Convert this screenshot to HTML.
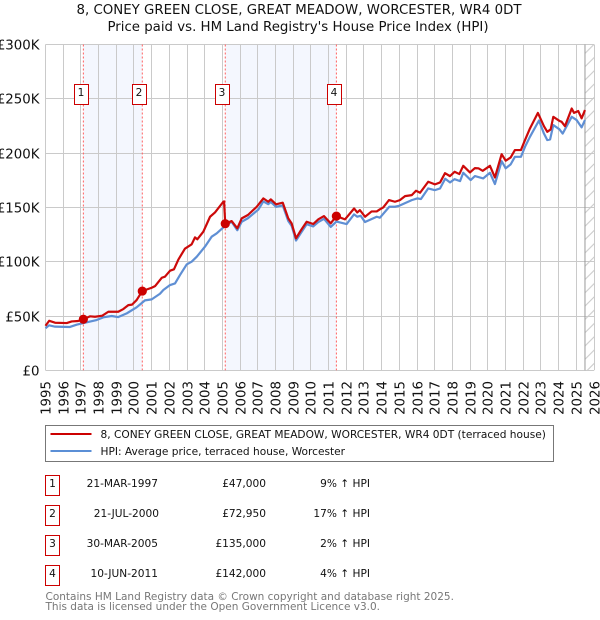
<!DOCTYPE html>
<html lang="en">
<head>
<meta charset="utf-8">
<title>8, CONEY GREEN CLOSE house price chart</title>
<style>
html,body{margin:0;padding:0;background:#fff;width:600px;height:620px;overflow:hidden}
svg{display:block;font-family:"DejaVu Sans","Liberation Sans",sans-serif}
</style>
</head>
<body>
<svg id="chart" xmlns="http://www.w3.org/2000/svg" width="600" height="620" viewBox="0 0 600 620">
<defs>
<pattern id="hatch" patternUnits="userSpaceOnUse" width="13.3" height="13.3">
<path d="M-1 14.3L14.3 -1M-1 1L1 -1M12.3 14.3L14.3 12.3" stroke="#c8c8c8" stroke-width="1" fill="none"/>
</pattern>
</defs>
<rect width="600" height="620" fill="#fff"/>
<text x="299" y="14" text-anchor="middle" font-size="13.33" fill="#111">8, CONEY GREEN CLOSE, GREAT MEADOW, WORCESTER, WR4 0DT</text>
<text x="298" y="31" text-anchor="middle" font-size="13.33" fill="#111">Price paid vs. HM Land Registry's House Price Index (HPI)</text>
<g id="plot"></g>
<g>
<rect x="45.5" y="425.5" width="508" height="36" fill="#fff" stroke="#777" stroke-width="1"/>
<line x1="50.5" x2="91.5" y1="434" y2="434" stroke="#cc0000" stroke-width="2"/>
<text x="100.5" y="438" font-size="10.6" fill="#111">8, CONEY GREEN CLOSE, GREAT MEADOW, WORCESTER, WR4 0DT (terraced house)</text>
<line x1="50.5" x2="91.5" y1="451" y2="451" stroke="#5b8fd6" stroke-width="2"/>
<text x="100.5" y="455" font-size="10.6" fill="#111">HPI: Average price, terraced house, Worcester</text>
</g>
<g font-size="10.6" fill="#111">
<g>
<rect x="45.5" y="475.5" width="14" height="20" fill="#fff" stroke="#cc0000"/>
<text x="52.5" y="487" text-anchor="middle">1</text>
<text x="158" y="487" text-anchor="end">21-MAR-1997</text>
<text x="266" y="487" text-anchor="end">£47,000</text>
<text x="370" y="487" text-anchor="end">9% ↑ HPI</text>
</g>
<g>
<rect x="45.5" y="505.5" width="14" height="20" fill="#fff" stroke="#cc0000"/>
<text x="52.5" y="517" text-anchor="middle">2</text>
<text x="159" y="517" text-anchor="end">21-JUL-2000</text>
<text x="266" y="517" text-anchor="end">£72,950</text>
<text x="370" y="517" text-anchor="end">17% ↑ HPI</text>
</g>
<g>
<rect x="45.5" y="535.5" width="14" height="20" fill="#fff" stroke="#cc0000"/>
<text x="52.5" y="547" text-anchor="middle">3</text>
<text x="158" y="547" text-anchor="end">30-MAR-2005</text>
<text x="266" y="547" text-anchor="end">£135,000</text>
<text x="370" y="547" text-anchor="end">2% ↑ HPI</text>
</g>
<g>
<rect x="45.5" y="565.5" width="14" height="20" fill="#fff" stroke="#cc0000"/>
<text x="52.5" y="577" text-anchor="middle">4</text>
<text x="158" y="577" text-anchor="end">10-JUN-2011</text>
<text x="266" y="577" text-anchor="end">£142,000</text>
<text x="370" y="577" text-anchor="end">4% ↑ HPI</text>
</g>
</g>
<text x="45.5" y="600" font-size="10.5" fill="#777">Contains HM Land Registry data © Crown copyright and database right 2025.</text>
<text x="45.5" y="610" font-size="10.5" fill="#777">This data is licensed under the Open Government Licence v3.0.</text>
</svg>
<script>
const yearTicks = [1995,1996,1997,1998,1999,2000,2001,2002,2003,2004,2005,2006,2007,2008,2009,2010,2011,2012,2013,2014,2015,2016,2017,2018,2019,2020,2021,2022,2023,2024,2025,2026];
const priceTicks = [0,50,100,150,200,250,300];
const priceTickLabels = ['£0','£50K','£100K','£150K','£200K','£250K','£300K'];
const saleNumbers = ['1','2','3','4'];
const saleYears = [1997.14,2000.47,2005.16,2011.44];
const salePrices = [47,72.95,135,142];
const lastDataYear = 2025.49;
const propertyYears = [1995,1995.21,1995.54,1996.2,1996.48,1996.85,1997.14,1997.51,1997.8,1998.21,1998.55,1999.11,1999.4,1999.68,1999.89,2000.15,2000.47,2001,2001.19,2001.57,2001.75,2002.04,2002.26,2002.51,2002.88,2003.26,2003.45,2003.58,2003.92,2004.3,2004.58,2005.05,2005.09,2005.16,2005.52,2005.84,2006.09,2006.44,2006.94,2007.31,2007.59,2007.73,2008.03,2008.41,2008.72,2008.91,2009.16,2009.42,2009.76,2010.13,2010.42,2010.74,2011.12,2011.44,2011.93,2012.44,2012.62,2012.77,2013.06,2013.43,2013.72,2013.9,2014.09,2014.41,2014.75,2015.03,2015.32,2015.7,2015.94,2016.17,2016.63,2017.01,2017.3,2017.58,2017.86,2018.12,2018.39,2018.61,2018.99,2019.27,2019.47,2019.71,2020.12,2020.4,2020.78,2021.01,2021.29,2021.53,2021.87,2022.1,2022.38,2022.83,2023.17,2023.36,2023.55,2023.7,2024.04,2024.17,2024.36,2024.74,2024.87,2025.11,2025.3,2025.49];
const propertyValues = [41,45.6,43.8,43.5,45,45.4,47,49.7,49.3,50.3,53.9,53.9,56.4,60,60.5,64.7,72.95,76,77.5,85.2,86.2,91.7,93,102,112,116,122.4,120.6,127.6,141.4,145.4,155.2,155.5,135,137.4,130.7,139.9,143,150.6,158.3,155.2,157.4,152.8,154.3,139.9,135.3,121.5,128.5,136.8,134.7,139,142,135.3,142,139,149,145.4,147.5,141.4,146.3,146.3,148.2,150,156.7,155.2,156.7,160.4,161.3,165.3,163.5,173.6,171.2,173,181.5,178.8,182.8,180.7,188.3,182.2,186.2,186,183.7,188.3,177.6,199,193,196,202.8,202.8,212,222.7,237,224.8,219.6,221.8,233.4,229.7,228.8,224.8,241,237,238.7,232,239.6];
const hpiYears = [1995,1995.2,1995.54,1996.38,1996.76,1997.14,1997.89,1998.27,1998.74,1999.1,1999.59,2000.15,2000.62,2001,2001.47,2001.66,2002.04,2002.32,2002.6,2002.98,2003.26,2003.55,2004.01,2004.39,2004.67,2005.05,2005.52,2005.84,2006.09,2006.44,2007.03,2007.31,2007.59,2007.73,2008.03,2008.41,2008.72,2008.91,2009.16,2009.42,2009.76,2010.13,2010.42,2010.74,2011.12,2011.44,2012.02,2012.44,2012.62,2012.81,2013.06,2013.72,2013.9,2014.43,2014.75,2014.99,2015.7,2016.01,2016.22,2016.63,2017.01,2017.3,2017.59,2017.86,2018.12,2018.43,2018.61,2019.03,2019.27,2019.74,2020.12,2020.4,2020.78,2021.01,2021.29,2021.53,2021.87,2022.1,2022.38,2022.89,2023.17,2023.36,2023.52,2023.7,2024.04,2024.23,2024.74,2025.02,2025.3,2025.49];
const hpiValues = [38.7,41.4,40.2,39.9,42,43.5,46.3,48.8,50,49,52.4,58,64.4,65.3,70.5,73.9,78.5,80,87.7,97.5,100,104.6,113.8,123,126,131.6,136.8,129,136.8,140,148,155.5,153,155,150.5,151.8,137.5,133,119.5,126,134.5,132.5,136.5,139.5,132,137,134.7,143.6,141.4,142.3,136.5,141.4,140.5,150.6,150.6,151.5,156.7,158.3,157.7,167.5,165.9,167.5,176.4,173,176,174.2,181.9,175.2,178.8,176.7,181.9,171.5,192.6,186,189.6,196.6,196.6,205.8,215,230,218,212,212.6,225.8,222,218,233.4,230.4,223.7,230.4];

const NS = 'http://www.w3.org/2000/svg';
const plot = document.getElementById('plot');
const PLOT_LEFT = 45.5, PLOT_RIGHT = 594, PLOT_TOP = 44.5, PLOT_BOTTOM = 370.3;
function xScale(year) { return PLOT_LEFT + (year - yearTicks[0]) * (PLOT_RIGHT - PLOT_LEFT) / (yearTicks[yearTicks.length - 1] - yearTicks[0]); }
function yScale(value) { return PLOT_BOTTOM - value * (PLOT_BOTTOM - PLOT_TOP) / priceTicks[priceTicks.length - 1]; }
function make(tag, attrs) {
  const el = document.createElementNS(NS, tag);
  for (const k in attrs) el.setAttribute(k, attrs[k]);
  plot.appendChild(el);
  return el;
}
function linePath(xs, ys) {
  return xs.map(function (y, i) { return (i ? 'L' : 'M') + xScale(y).toFixed(2) + ' ' + yScale(ys[i]).toFixed(2); }).join('');
}

[[0, 1], [2, 3]].forEach(function (pair) {
  const band = make('rect', {x: xScale(saleYears[pair[0]]), y: PLOT_TOP, width: xScale(saleYears[pair[1]]) - xScale(saleYears[pair[0]]), height: PLOT_BOTTOM - PLOT_TOP, fill: '#f4f7fe'});
  
  
});

const hatchArea = make('rect', {x: xScale(lastDataYear), y: PLOT_TOP, width: PLOT_RIGHT - xScale(lastDataYear), height: PLOT_BOTTOM - PLOT_TOP, fill: 'url(#hatch)'});



yearTicks.forEach(function (year) {
  const x = Math.round(xScale(year) - 0.5) + 0.5;
  const grid = make('line', {x1: x, x2: x, y1: PLOT_TOP, y2: PLOT_BOTTOM, stroke: '#cacaca', 'stroke-width': 1});
  
  
  const label = make('text', {transform: 'translate(' + (x + 5) + ',381) rotate(-90)', 'text-anchor': 'end', 'font-size': 13.33, fill: '#111'});
  label.textContent = year;
  
  
});

priceTicks.forEach(function (value, i) {
  const y = Math.round(yScale(value) - 0.5) + 0.5;
  const grid = make('line', {x1: PLOT_LEFT, x2: PLOT_RIGHT, y1: y, y2: y, stroke: '#cacaca', 'stroke-width': 1});
  
  
  const label = make('text', {x: 39.5, y: y + 5, 'text-anchor': 'end', 'font-size': 13.33, fill: '#111'});
  label.textContent = priceTickLabels[i];
  
  
});

const lastDataLine = make('line', {x1: xScale(lastDataYear), x2: xScale(lastDataYear), y1: PLOT_TOP, y2: PLOT_BOTTOM, stroke: '#999', 'stroke-width': 1});



saleYears.forEach(function (year) {
  const x = xScale(year);
  const marker = make('line', {x1: x, x2: x, y1: PLOT_TOP, y2: PLOT_BOTTOM, stroke: '#ff5f5f', 'stroke-width': 1, 'stroke-dasharray': '2 2'});
  
  
});

const hpiLine = make('path', {d: linePath(hpiYears, hpiValues), fill: 'none', stroke: '#5f8fd4', 'stroke-width': 2.2, 'stroke-linejoin': 'round'});



const propertyLine = make('path', {d: linePath(propertyYears, propertyValues), fill: 'none', stroke: '#cc0a0a', 'stroke-width': 2.2, 'stroke-linejoin': 'round'});



saleYears.forEach(function (year, i) {
  const point = make('circle', {cx: xScale(year), cy: yScale(salePrices[i]), r: 4.6, fill: '#cc0000'});
  
  
  const x = Math.round(xScale(year) - 2.8 - 7) + 0.5;
  const box = make('rect', {x: x, y: 84.5, width: 14, height: 20, fill: '#fff', stroke: '#cc0000', 'stroke-width': 1});
  
  
  const num = make('text', {x: x + 6.5, y: 96, 'text-anchor': 'middle', 'font-size': 10.6, fill: '#111'});
  num.textContent = saleNumbers[i];
  
  
});
</script>
</body>
</html>
